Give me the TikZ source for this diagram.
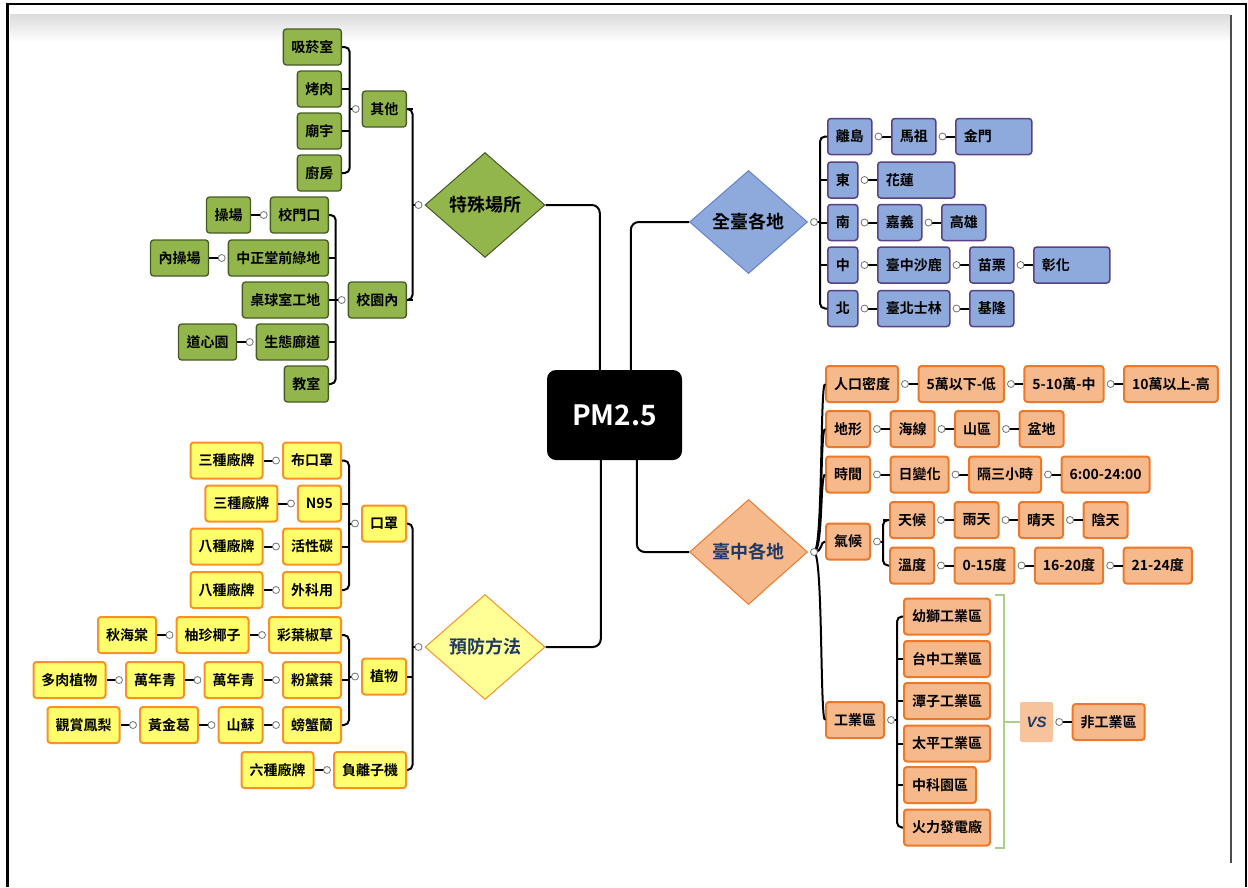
\documentclass[tikz,border=0pt]{standalone}
\usepackage{fontspec}
\setmainfont{Noto Sans CJK TC}[BoldFont={Noto Sans CJK TC Bold}]
\newfontfamily\vsfont{Liberation Sans}
\usepackage{xcolor}
\usetikzlibrary{calc,positioning,shapes.geometric}
\definecolor{greenfill}{RGB}{146,182,76}
\definecolor{greenline}{RGB}{70,90,36}
\definecolor{yellowfill}{RGB}{255,255,110}
\definecolor{yellowdiam}{RGB}{255,255,150}
\definecolor{yellowline}{RGB}{250,145,35}
\definecolor{bluefill}{RGB}{142,169,219}
\definecolor{blueline}{RGB}{90,64,132}
\definecolor{bluediam}{RGB}{100,130,200}
\definecolor{orangefill}{RGB}{246,185,140}
\definecolor{orangeline}{RGB}{237,120,40}
\definecolor{navy}{RGB}{31,56,100}
\definecolor{vsgreen}{RGB}{169,209,142}

\newcommand{\forkleft}[4]{%
  \coordinate (#1-fork) at ($(#1.west)+(-12,0)$);
  \draw[link, rounded corners=5pt] (#2.east) -| (#1-fork) |- (#3.east);
  \foreach \kid in {#4} {\draw[link] (\kid.east) -- (\kid.east -| #1-fork);}
  \draw[link] ($(#1.west)+(-6,0)$) -- (#1-fork);
  \draw[knob] ($(#1.west)+(-6,0)$) circle[radius=3.5pt];
}
\newcommand{\forkright}[4]{%
  \coordinate (#1-fork) at ($(#1.east)+(12,0)$);
  \draw[link, rounded corners=5pt] (#2.west) -| (#1-fork) |- (#3.west);
  \foreach \kid in {#4} {\draw[link] (\kid.west) -- (\kid.west -| #1-fork);}
  \draw[link] ($(#1.east)+(6,0)$) -- (#1-fork);
  \draw[knob] ($(#1.east)+(6,0)$) circle[radius=3.5pt];
}

\begin{document}
\begin{tikzpicture}[x=1pt, y=-1pt, node distance=18.5pt,
  mmbox/.style={rectangle, rounded corners=3pt, minimum height=36pt,
    inner xsep=8pt, inner ysep=2pt, text=black,
    font=\fontsize{14}{16}\selectfont\bfseries},
  gbox/.style={mmbox, draw=greenline, fill=greenfill, line width=1.3pt},
  ybox/.style={mmbox, draw=yellowline, fill=yellowfill, line width=2pt},
  bbox/.style={mmbox, draw=blueline, fill=bluefill, line width=1.5pt},
  obox/.style={mmbox, draw=orangeline, fill=orangefill, line width=2pt},
  wide/.style={text width=#1, align=left},
  diam/.style={diamond, minimum width=120pt, minimum height=105pt,
    inner sep=0pt, line width=1pt, font=\fontsize{18}{20}\selectfont\bfseries},
  gdiam/.style={diam, draw=greenline, fill=greenfill, text=black},
  ydiam/.style={diam, draw=yellowline, fill=yellowdiam, text=navy},
  bdiam/.style={diam, draw=bluediam, fill=bluefill, text=black, minimum width=118pt, minimum height=103pt},
  odiam/.style={diam, draw=orangeline, fill=orangefill, text=navy, minimum width=118pt},
  root/.style={rectangle, rounded corners=9pt, fill=black, text=white,
    minimum width=135pt, minimum height=90pt,
    font=\fontsize{28}{30}\selectfont\bfseries},
  vsbox/.style={rectangle, rounded corners=2pt, fill=orangefill!85!white,
    minimum width=33pt, minimum height=40pt, text=navy,
    font=\vsfont\fontsize{15}{18}\selectfont\bfseries\itshape},
  link/.style={line width=2pt, black},
  knob/.style={draw=black!55, fill=white, line width=0.8pt},
  bracket/.style={draw=vsgreen, line width=2.5pt},
]
  \useasboundingbox (0,0) rectangle (1248,887);
  \shade[top color=black!14, bottom color=white] (10,14) rectangle (1230,42);
  \draw[black!70, line width=1.5pt] (1231,15) -- (1231,863);
  \draw[black, line width=2.5pt] (7.5,887) -- (7.5,4) -- (1246,4) -- (1246,887);

  \node[root] (pm) at (614.5,415) {PM2.5};

  \node[gdiam] (sc) at (485,205) {特殊場所};
  \node[gbox, anchor=east] (qita) at (407,109) {其他};
  \node[gbox, anchor=east] (xiaoyuan) at (407,300) {校園內};
  \node[gbox, anchor=east] (xiyan) at (342,47) {吸菸室};
  \node[gbox, anchor=east] (kaorou) at (342,89) {烤肉};
  \node[gbox, anchor=east] (miaoyu) at (342,131) {廟宇};
  \node[gbox, anchor=east] (chufang) at (342,173) {廚房};
  \node[gbox, anchor=east] (xiaomen) at (329,215) {校門口};
  \node[gbox, left=of xiaomen] (caochang) {操場};
  \node[gbox, anchor=east] (zhongzheng) at (329,258) {中正堂前綠地};
  \node[gbox, left=of zhongzheng] (neicao) {內操場};
  \node[gbox, anchor=east] (zhuoqiu) at (329,300) {桌球室工地};
  \node[gbox, anchor=east] (shengtai) at (329,342) {生態廊道};
  \node[gbox, left=of shengtai] (daoxin) {道心園};
  \node[gbox, anchor=east] (jiaoshi) at (329,384) {教室};

  \node[ydiam] (yf) at (485,647) {預防方法};
  \node[ybox, anchor=east] (kouzhao) at (407,523.5) {口罩};
  \node[ybox, anchor=east] (zhiwu) at (407,676.5) {植物};
  \node[ybox, anchor=east] (fulizi) at (407,770) {負離子機};
  \node[ybox, left=of fulizi] (liuzhong) {六種廠牌};
  \node[ybox, anchor=east] (bukouzhao) at (342,460.5) {布口罩};
  \node[ybox, left=of bukouzhao] (sanzhong1) {三種廠牌};
  \node[ybox, anchor=east] (nfive) at (342,503.5) {N95};
  \node[ybox, left=of nfive] (sanzhong2) {三種廠牌};
  \node[ybox, anchor=east] (huoxing) at (342,546.5) {活性碳};
  \node[ybox, left=of huoxing] (bazhong1) {八種廠牌};
  \node[ybox, anchor=east] (waike) at (342,590) {外科用};
  \node[ybox, left=of waike] (bazhong2) {八種廠牌};
  \node[ybox, anchor=east] (caiye) at (342,635) {彩葉椒草};
  \node[ybox, left=of caiye] (youzhen) {柚珍椰子};
  \node[ybox, left=of youzhen] (qiuhai) {秋海棠};
  \node[ybox, anchor=east] (fendai) at (342,680) {粉黛葉};
  \node[ybox, left=of fendai] (wannian2) {萬年青};
  \node[ybox, left=of wannian2] (wannian1) {萬年青};
  \node[ybox, left=of wannian1] (duorou) {多肉植物};
  \node[ybox, anchor=east] (pangxie) at (342,725) {螃蟹蘭};
  \node[ybox, left=of pangxie] (shansu) {山蘇};
  \node[ybox, left=of shansu] (huangjin) {黃金葛};
  \node[ybox, left=of huangjin] (guanshang) {觀賞鳳梨};

  \node[bdiam] (qt) at (748.5,222) {全臺各地};
  \node[bbox, anchor=west] (lidao) at (827,136.5) {離島};
  \node[bbox, right=of lidao] (mazu) {馬祖};
  \node[bbox, right=of mazu, wide=60pt] (jinmen) {金門};
  \node[bbox, anchor=west] (dong) at (827,180) {東};
  \node[bbox, right=of dong, wide=61pt] (hualian) {花蓮};
  \node[bbox, anchor=west] (nan) at (827,222.5) {南};
  \node[bbox, right=of nan] (jiayi) {嘉義};
  \node[bbox, right=of jiayi] (gaoxiong) {高雄};
  \node[bbox, anchor=west] (zhong) at (827,265) {中};
  \node[bbox, right=of zhong] (shalu) {臺中沙鹿};
  \node[bbox, right=of shalu] (miaoli) {苗栗};
  \node[bbox, right=of miaoli, wide=60pt] (zhanghua) {彰化};
  \node[bbox, anchor=west] (bei) at (827,308.5) {北};
  \node[bbox, right=of bei] (shilin) {臺北士林};
  \node[bbox, right=of shilin] (jilong) {基隆};

  \node[odiam] (tz) at (748.5,552) {臺中各地};
  \node[obox, anchor=west] (renkou) at (825,384) {人口密度};
  \node[obox, right=of renkou] (wanyixia) {5萬以下-低};
  \node[obox, right=of wanyixia] (wuwan) {5-10萬-中};
  \node[obox, right=of wuwan] (shiwan) {10萬以上-高};
  \node[obox, anchor=west] (dixing) at (825,429) {地形};
  \node[obox, right=of dixing] (haixian) {海線};
  \node[obox, right=of haixian] (shanqu) {山區};
  \node[obox, right=of shanqu] (pendi) {盆地};
  \node[obox, anchor=west] (shijian) at (825,474.5) {時間};
  \node[obox, right=of shijian] (ribian) {日變化};
  \node[obox, right=of ribian] (gesan) {隔三小時};
  \node[obox, right=of gesan] (liudian) {6:00-24:00};
  \node[obox, anchor=west] (qihou) at (825,541.5) {氣候};
  \node[obox, anchor=west] (tianhou) at (889,520) {天候};
  \node[obox, right=of tianhou] (yutian) {雨天};
  \node[obox, right=of yutian] (qingtian) {晴天};
  \node[obox, right=of qingtian] (yintian) {陰天};
  \node[obox, anchor=west] (wendu) at (889,565.5) {溫度};
  \node[obox, right=of wendu] (duone) {0-15度};
  \node[obox, right=of duone] (dutwo) {16-20度};
  \node[obox, right=of dutwo] (duthree) {21-24度};
  \node[obox, anchor=west] (gongye) at (825,720) {工業區};
  \node[obox, anchor=west] (youshi) at (903,616.5) {幼獅工業區};
  \node[obox, anchor=west] (taizhong) at (903,659) {台中工業區};
  \node[obox, anchor=west] (tanzi) at (903,701) {潭子工業區};
  \node[obox, anchor=west] (taiping) at (903,743.5) {太平工業區};
  \node[obox, anchor=west] (zhongke) at (903,785) {中科園區};
  \node[obox, anchor=west] (huoli) at (903,827.5) {火力發電廠};
  \node[vsbox] (vs) at (1036.5,722) {VS};
  \node[obox, right=of vs] (feigongye) {非工業區};

  \draw[link, rounded corners=8pt] ($(pm.north west)+(53,0)$) |- (sc.east);
  \draw[link, rounded corners=8pt] ($(pm.north west)+(84,0)$) |- (qt.west);
  \draw[link, rounded corners=8pt] ($(pm.south west)+(54,0)$) |- (yf.east);
  \draw[link, rounded corners=8pt] ($(pm.south west)+(90,0)$) |- (tz.west);

  \forkleft{sc}{qita}{xiaoyuan}{qita,xiaoyuan}
  \forkleft{qita}{xiyan}{chufang}{kaorou,miaoyu}
  \forkleft{xiaoyuan}{xiaomen}{jiaoshi}{zhongzheng,zhuoqiu,shengtai}
  \forkleft{yf}{kouzhao}{fulizi}{zhiwu}
  \forkleft{kouzhao}{bukouzhao}{waike}{nfive,huoxing}
  \forkleft{zhiwu}{caiye}{pangxie}{fendai}
  \forkright{qt}{lidao}{bei}{dong,nan,zhong}
  \forkright{qihou}{tianhou}{wendu}{tianhou}
  \forkright{gongye}{youshi}{huoli}{taizhong,tanzi,taiping,zhongke}

  \foreach \kid in {renkou,dixing,shijian,qihou,gongye}
    {\draw[link] ($(tz.east)+(6,0)$) .. controls +(9,0) and +(-5,0) .. (\kid.west);}
  \draw[knob] ($(tz.east)+(6,0)$) circle[radius=3.5pt];

  \foreach \a/\b in {xiaomen/caochang, zhongzheng/neicao, shengtai/daoxin,
      bukouzhao/sanzhong1, nfive/sanzhong2, huoxing/bazhong1, waike/bazhong2,
      caiye/youzhen, youzhen/qiuhai, fendai/wannian2, wannian2/wannian1,
      wannian1/duorou, pangxie/shansu, shansu/huangjin, huangjin/guanshang,
      fulizi/liuzhong}
    {\draw[link] ($(\a.west)+(-6,0)$) -- (\b.east);
     \draw[knob] ($(\a.west)+(-6,0)$) circle[radius=3.5pt];}

  \foreach \a/\b in {lidao/mazu, mazu/jinmen, dong/hualian, nan/jiayi,
      jiayi/gaoxiong, zhong/shalu, shalu/miaoli, miaoli/zhanghua, bei/shilin,
      shilin/jilong, renkou/wanyixia, wanyixia/wuwan, wuwan/shiwan,
      dixing/haixian, haixian/shanqu, shanqu/pendi, shijian/ribian,
      ribian/gesan, gesan/liudian, tianhou/yutian, yutian/qingtian,
      qingtian/yintian, wendu/duone, duone/dutwo, dutwo/duthree, vs/feigongye}
    {\draw[link] ($(\a.east)+(6,0)$) -- (\b.west);
     \draw[knob] ($(\a.east)+(6,0)$) circle[radius=3.5pt];}

  \draw[bracket] (995,595) -- (1004,595) -- (1004,848) -- (995,848);
  \draw[bracket] (1004,722) -- (vs.west);
\end{tikzpicture}
\end{document}
